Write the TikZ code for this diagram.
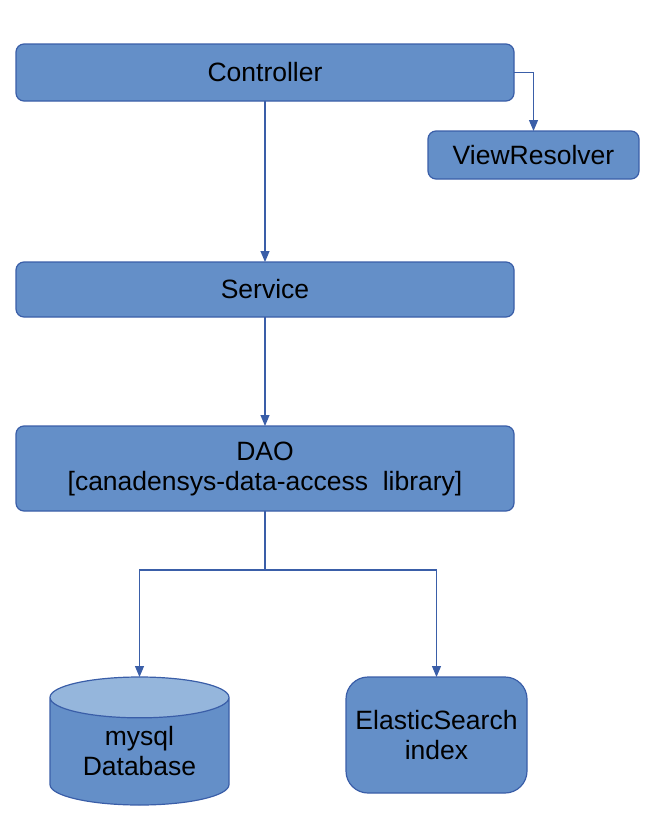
\documentclass[tikz,border=0pt]{standalone}
\usepackage{fontspec}
\setmainfont{Liberation Sans}
\usetikzlibrary{shapes.geometric}
\usetikzlibrary{arrows.meta}
\usetikzlibrary{positioning}
\definecolor{layerfill}{HTML}{648FC8}
\definecolor{layerline}{HTML}{3A5EA8}
\definecolor{dbtop}{HTML}{95B6DC}
\tikzset{
% Define standard arrow tip
>={Triangle[length=5.5pt, width=4.5pt]},
layer/.style={rectangle, draw=layerline, fill=layerfill, align=center, rounded corners=4pt}
}

\begin{document}
\begin{tikzpicture}[x=0.5pt, y=-0.5pt, draw=layerline, line width=0.6pt, inner sep=0, outer sep=0,
  font=\fontsize{13.25}{15}\selectfont]
  \useasboundingbox (0,0) rectangle (648,830);

  \node[layer,
    minimum width = 249pt,
    minimum height = 28.5pt] (ctrl) at (265, 72.5) {Controller};
  \node[layer,
    minimum width = 105.5pt,
    minimum height = 24pt] (view) at (533.5, 155) {ViewResolver};
  \node[layer,
    minimum width = 249pt,
    minimum height = 27.5pt] (svc) at (265, 289.5) {Service};
  \node[layer,
    minimum width = 249pt,
    minimum height = 42.5pt] (dao) at (265, 468.5) {DAO\\{}[canadensys-data-access\ \ library]};

  % storage
  \node[cylinder, shape border rotate=90, aspect=0.36,
    draw=layerline, align=center,
    cylinder uses custom fill,
    cylinder body fill=layerfill,
    cylinder end fill=dbtop,
    minimum width = 89.5pt,
    minimum height = 64pt,
    anchor=shape center] (db) at (139.5, 741) {mysql\\Database};
  \node[layer, rounded corners=11pt,
    minimum width = 90.5pt,
    minimum height = 58pt] (es) at (436.5, 735) {ElasticSearch\\index};

  \draw[->] (ctrl.east) -| (view.north);
  \draw[->] (ctrl.south) -- (svc.north);
  \draw[->] (svc.south) -- (dao.north);

  \coordinate (split) at ([yshift=-29.5pt]dao.south);
  \draw (dao.south) -- (split);
  \draw[->] (split) -| (db.north);
  \draw[->] (split) -| (es.north);
\end{tikzpicture}
\end{document}
